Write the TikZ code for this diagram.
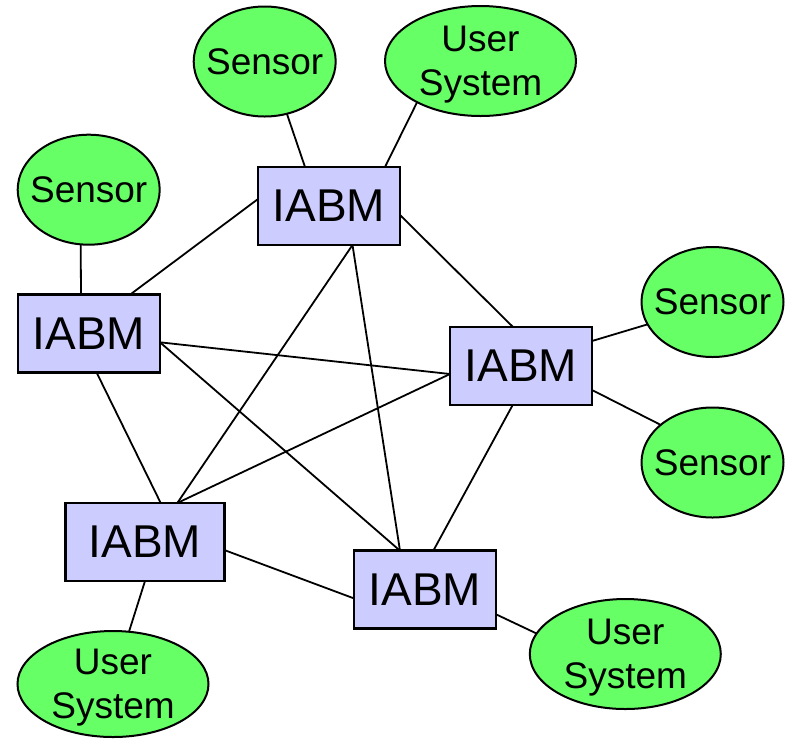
\documentclass[tikz,border=0pt]{standalone}
\usepackage{fontspec}
\setmainfont{Liberation Sans}
\usetikzlibrary{backgrounds,shapes.geometric}
\definecolor{boxfill}{HTML}{CCCCFF}
\definecolor{ellfill}{HTML}{66FF66}
\tikzset{
  iabm/.style={draw=black, line width=2.6pt, fill=boxfill, rectangle,
    minimum width=142pt, minimum height=78pt, inner sep=0pt, outer sep=0pt,
    font=\fontsize{46}{52}\selectfont},
  ell/.style={draw=black, line width=2pt, fill=ellfill, ellipse,
    inner sep=-20pt, outer sep=0pt, align=center,
    font=\fontsize{37}{44}\selectfont},
  sensorell/.style={ell, minimum width=142pt, minimum height=110pt},
  userell/.style={ell, minimum width=191pt, minimum height=110pt},
  link/.style={draw=black, line width=1.8pt}
}
\begin{document}
\begin{tikzpicture}[x=1pt,y=1pt]
\useasboundingbox (0,0) rectangle (792,-740);
% IABM boxes
\node[iabm] (T)  at (329,-206) {IABM};
\node[iabm] (L)  at (89,-333.7) {IABM};
\node[iabm] (R)  at (521,-366) {IABM};
\node[iabm, minimum width=158.5pt] (BL) at (145,-542) {IABM};
\node[iabm] (BR) at (425,-589.7) {IABM};
% ellipses
\node[sensorell] (ST)  at (264.7,-61.5) {Sensor};
\node[userell]   (UT)  at (480.5,-61) {User\\\smash{System}};
\node[sensorell] (SL)  at (88.7,-189.7) {Sensor};
\node[sensorell] (SR1) at (712.5,-302) {Sensor};
\node[sensorell] (SR2) at (712.5,-462.5) {Sensor};
\node[userell, minimum height=106pt] (UBL) at (113,-684) {User\\\smash{System}};
\node[userell]   (UBR) at (625.3,-654) {User\\\smash{System}};
% connectors
\begin{scope}[on background layer]
\draw[link] ([xshift=-24pt]T.north) -- (ST.-67);
\draw[link] ([xshift=56pt]T.north) -- (UT.213);
\draw[link] ([xshift=-8pt]L.north) -- ([xshift=-8pt]SL.south);
\draw[link] ([yshift=7pt]T.west) -- ([xshift=41pt]L.north);
\draw[link] ([yshift=-9pt]T.east) -- ([xshift=-8pt]R.north);
\draw[link] ([xshift=23.5pt]T.south) -- ([xshift=32.3pt]BL.north);
\draw[link] ([xshift=23.5pt]T.south) -- ([xshift=-25pt]BR.north);
\draw[link] ([yshift=-8.6pt]L.east) -- ([yshift=-8pt]R.west);
\draw[link] ([yshift=-8.6pt]L.east) -- ([xshift=-25pt]BR.north);
\draw[link] ([xshift=7.7pt]L.south) -- ([xshift=15.7pt]BL.north);
\draw[link] ([yshift=-8pt]R.west) -- ([xshift=32.3pt]BL.north);
\draw[link] ([xshift=-8.3pt]R.south) -- ([xshift=8.3pt]BR.north);
\draw[link] ([yshift=25pt]R.east) -- (SR1.199);
\draw[link] ([yshift=-24pt]R.east) -- (SR2.144);
\draw[link] ([yshift=-8pt]BL.east) -- ([yshift=-8.7pt]BR.west);
\draw[link] (BL.south) -- (UBL.73);
\draw[link] ([yshift=-24.6pt]BR.east) -- (UBR.167);
\end{scope}
\end{tikzpicture}
\end{document}
